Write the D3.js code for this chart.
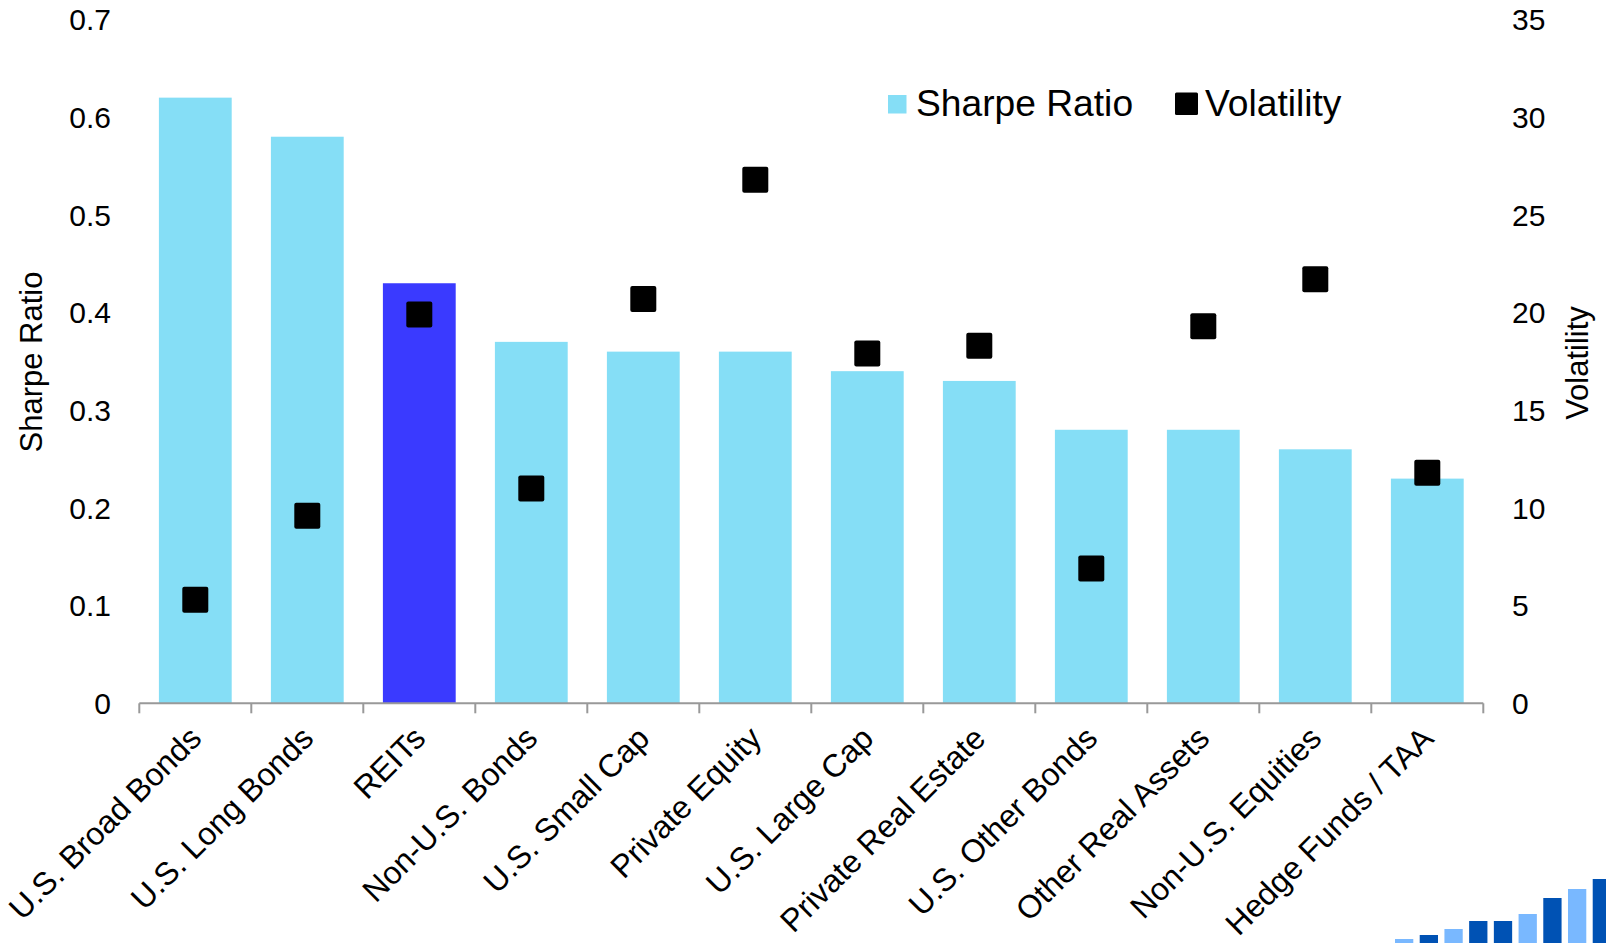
<!DOCTYPE html>
<html>
<head>
<meta charset="utf-8">
<script src="https://cdn.jsdelivr.net/npm/d3@7"></script>
<style>
  html, body { margin: 0; padding: 0; background: #fff; }
  svg { display: block; font-family: "Liberation Sans", Arial, sans-serif; }
</style>
</head>
<body>
<svg id="chart" width="1606" height="943"></svg>
<script>
// Asset classes, ranked by Sharpe ratio
const categories = [
  "U.S. Broad Bonds", "U.S. Long Bonds", "REITs", "Non-U.S. Bonds",
  "U.S. Small Cap", "Private Equity", "U.S. Large Cap", "Private Real Estate",
  "U.S. Other Bonds", "Other Real Assets", "Non-U.S. Equities", "Hedge Funds / TAA"
];
const sharpeRatio = [0.62, 0.58, 0.43, 0.37, 0.36, 0.36, 0.34, 0.33, 0.28, 0.28, 0.26, 0.23];
const volatility  = [5.3, 9.6, 19.9, 11.0, 20.7, 26.8, 17.9, 18.3, 6.9, 19.3, 21.7, 11.8];
const highlighted = ["REITs"];

const sharpeTicks = [0, 0.1, 0.2, 0.3, 0.4, 0.5, 0.6, 0.7];
const volTicks = [0, 5, 10, 15, 20, 25, 30, 35];

// Small rising-bars emblem in the corner
const logoLevels = [4, 8, 14, 22, 22, 29, 45, 54, 64];
const logoShade  = ["light", "dark", "light", "dark", "dark", "light", "dark", "light", "dark"];

const colors = {
  bar: "#85DEF6",
  barHighlight: "#3A3AFF",
  marker: "#000000",
  axis: "#999999",
  text: "#000000",
  logoLight: "#79B8FF",
  logoDark: "#0052B4"
};

const svg = d3.select("#chart");
const plot = { left: 139.3, right: 1483.3, top: 19.5, bottom: 703.3 };

const x = d3.scaleBand()
  .domain(categories)
  .range([plot.left, plot.right])
  .paddingInner(0.35)
  .paddingOuter(0.175);

const yLeft = d3.scaleLinear().domain([0, 0.7]).range([plot.bottom, plot.top]);
const yRight = d3.scaleLinear().domain([0, 35]).range([plot.bottom, plot.top]);

// Bars: Sharpe ratio
svg.append("g")
  .selectAll("rect")
  .data(categories)
  .join("rect")
  .attr("x", d => x(d))
  .attr("width", x.bandwidth())
  .attr("y", (d, i) => yLeft(sharpeRatio[i]))
  .attr("height", (d, i) => plot.bottom - yLeft(sharpeRatio[i]))
  .attr("fill", d => highlighted.includes(d) ? colors.barHighlight : colors.bar);

// Category axis with ticks between bands
const step = x.step();
const axisG = svg.append("g");
axisG.append("line")
  .attr("x1", plot.left).attr("x2", plot.right)
  .attr("y1", plot.bottom).attr("y2", plot.bottom)
  .attr("stroke", colors.axis).attr("stroke-width", 2);
const boundaries = d3.range(categories.length + 1).map(i => plot.left + i * step);
axisG.selectAll("line.tick")
  .data(boundaries)
  .join("line")
  .attr("class", "tick")
  .attr("x1", d => d).attr("x2", d => d)
  .attr("y1", plot.bottom).attr("y2", plot.bottom + 10)
  .attr("stroke", colors.axis).attr("stroke-width", 2);

// Rotated category labels
svg.append("g")
  .selectAll("text")
  .data(categories)
  .join("text")
  .attr("transform", d => `translate(${x(d) + x.bandwidth() / 2 + 8},${plot.bottom + 37}) rotate(-45)`)
  .attr("text-anchor", "end")
  .attr("font-size", 32)
  .attr("fill", colors.text)
  .text(d => d);

// Volatility markers
const markerSize = 26;
svg.append("g")
  .selectAll("rect")
  .data(categories)
  .join("rect")
  .attr("x", d => x(d) + x.bandwidth() / 2 - markerSize / 2)
  .attr("y", (d, i) => yRight(volatility[i]) - markerSize / 2)
  .attr("width", markerSize)
  .attr("height", markerSize)
  .attr("rx", 2)
  .attr("fill", colors.marker);

// Left value axis labels
svg.append("g")
  .selectAll("text")
  .data(sharpeTicks)
  .join("text")
  .attr("x", 111)
  .attr("y", d => yLeft(d))
  .attr("dy", "0.36em")
  .attr("text-anchor", "end")
  .attr("font-size", 30)
  .attr("fill", colors.text)
  .text(d => d3.format("")(d));

// Right value axis labels
svg.append("g")
  .selectAll("text")
  .data(volTicks)
  .join("text")
  .attr("x", 1512)
  .attr("y", d => yRight(d))
  .attr("dy", "0.36em")
  .attr("text-anchor", "start")
  .attr("font-size", 30)
  .attr("fill", colors.text)
  .text(d => d);

// Axis titles
svg.append("text")
  .attr("transform", "translate(41.5,362) rotate(-90)")
  .attr("text-anchor", "middle")
  .attr("font-size", 31)
  .attr("fill", colors.text)
  .text("Sharpe Ratio");

svg.append("text")
  .attr("transform", "translate(1588,363) rotate(-90)")
  .attr("text-anchor", "middle")
  .attr("font-size", 31)
  .attr("fill", colors.text)
  .text("Volatility");

// Legend
const legend = svg.append("g");
legend.append("rect")
  .attr("x", 888).attr("y", 95).attr("width", 18.5).attr("height", 18.5)
  .attr("fill", colors.bar);
legend.append("text")
  .attr("x", 916).attr("y", 115.5)
  .attr("font-size", 37.2).attr("fill", colors.text)
  .text("Sharpe Ratio");
legend.append("rect")
  .attr("x", 1175).attr("y", 92.5).attr("width", 23).attr("height", 22.5)
  .attr("rx", 1.5)
  .attr("fill", colors.marker);
legend.append("text")
  .attr("x", 1205).attr("y", 115.5)
  .attr("font-size", 37.2).attr("fill", colors.text)
  .text("Volatility");

// Corner emblem
const logoX = d3.scaleBand()
  .domain(d3.range(logoLevels.length))
  .range([1395, 1395 + logoLevels.length * 24])
  .paddingInner(0.26)
  .paddingOuter(0);
const logoY = d3.scaleLinear().domain([0, 64]).range([943, 879]);
svg.append("g")
  .selectAll("rect")
  .data(logoLevels)
  .join("rect")
  .attr("x", (d, i) => logoX(i))
  .attr("width", logoX.bandwidth())
  .attr("y", d => logoY(d))
  .attr("height", d => 943 - logoY(d))
  .attr("fill", (d, i) => logoShade[i] === "light" ? colors.logoLight : colors.logoDark);
</script>
</body>
</html>
